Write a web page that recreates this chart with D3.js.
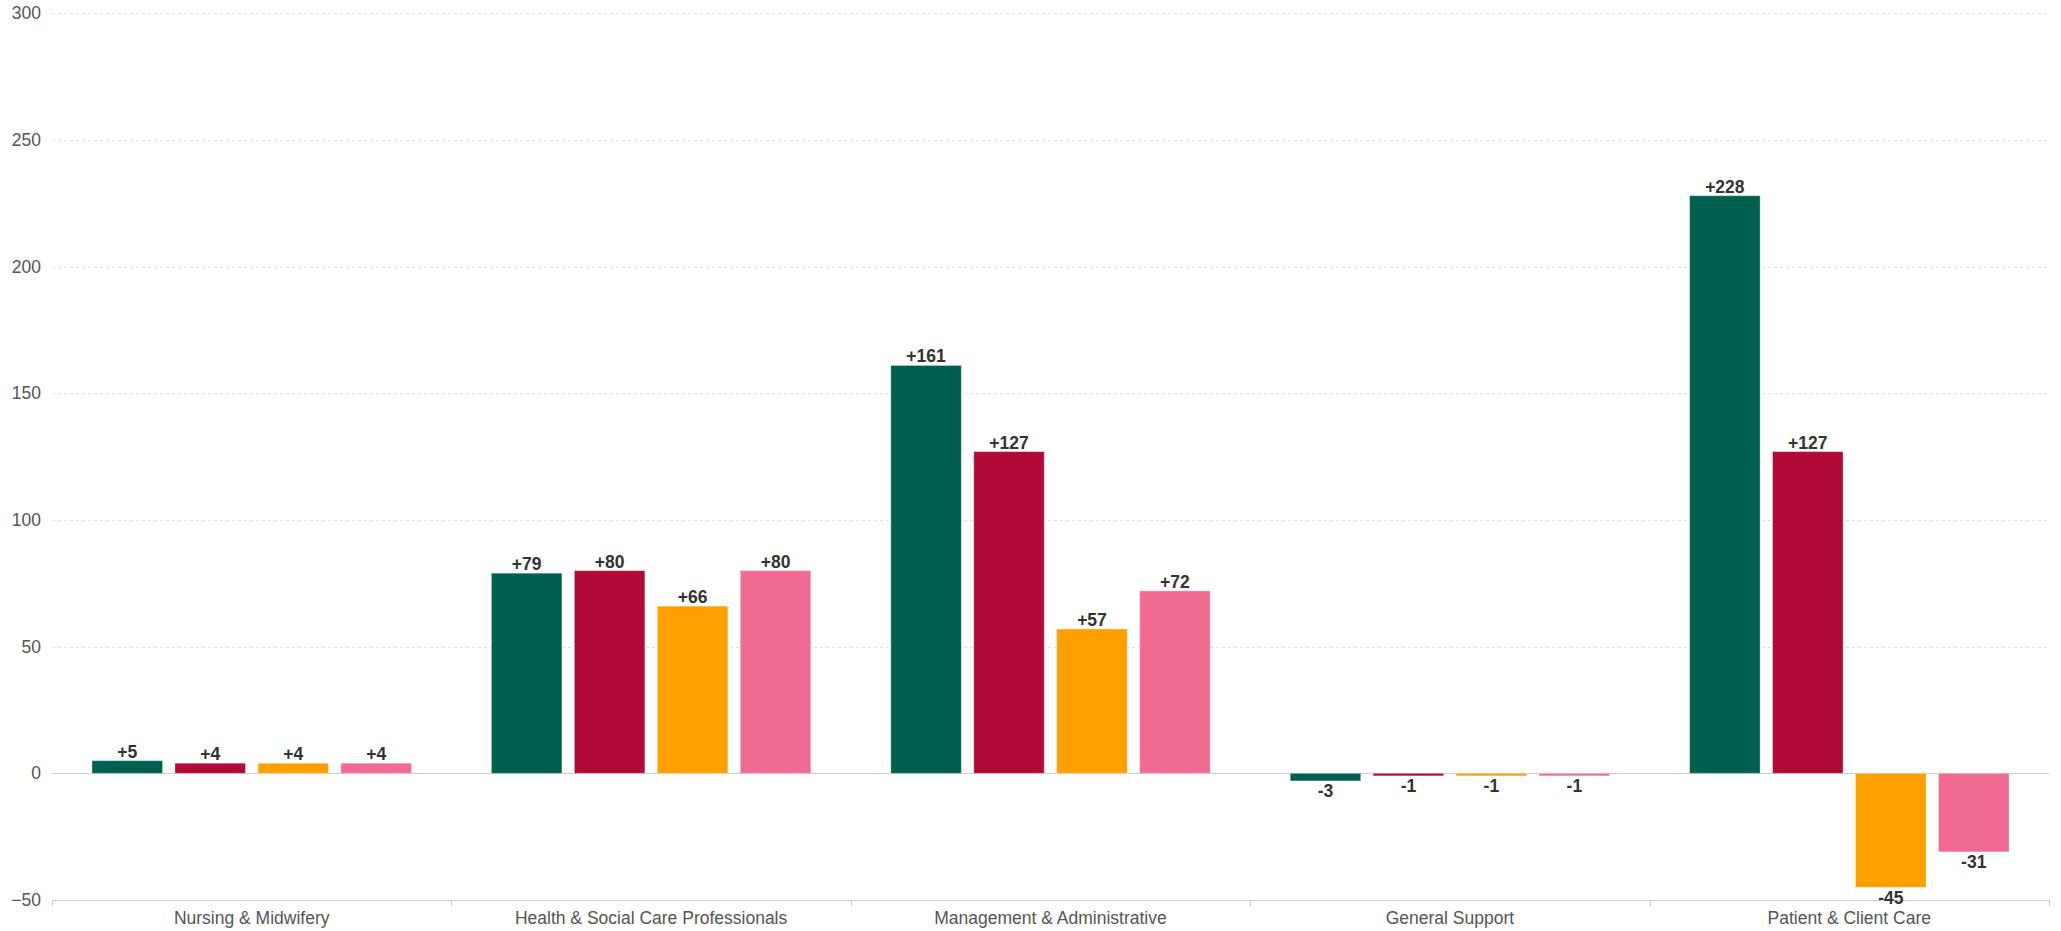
<!DOCTYPE html>
<html>
<head>
<meta charset="utf-8">
<script src="https://cdn.jsdelivr.net/npm/d3@7"></script>
<style>
  html, body { margin: 0; padding: 0; background: #fff; }
  svg { display: block; }
  text { font-family: "Liberation Sans", Arial, sans-serif; }
</style>
</head>
<body>
<svg id="chart" width="2061" height="931"></svg>
<script>
// Workforce change by staff category, four series per group
const categories = [
  "Nursing & Midwifery",
  "Health & Social Care Professionals",
  "Management & Administrative",
  "General Support",
  "Patient & Client Care"
];
const seriesNames = ["Series A", "Series B", "Series C", "Series D"];
const seriesA = [5, 79, 161, -3, 228];
const seriesB = [4, 80, 127, -1, 127];
const seriesC = [4, 66, 57, -1, -45];
const seriesD = [4, 80, 72, -1, -31];
const seriesColors = ["#00604f", "#b00a38", "#ffa000", "#f06a92"];
const yTicks = [-50, 0, 50, 100, 150, 200, 250, 300];

const allSeries = [seriesA, seriesB, seriesC, seriesD];

const W = 2061, H = 931;
const plot = { left: 52, right: 2049, top: 13.3, bottom: 900 };

const svg = d3.select("#chart");

const x0 = d3.scaleBand()
  .domain(categories)
  .range([plot.left, plot.right])
  .padding(0);

const x1 = d3.scaleBand()
  .domain(seriesNames)
  .range([40, x0.bandwidth() - 40])
  .paddingInner(0.15)
  .paddingOuter(0);

const y = d3.scaleLinear()
  .domain([-50, 300])
  .range([plot.bottom, plot.top]);

// Dashed horizontal grid
svg.append("g")
  .selectAll("line")
  .data(yTicks.filter(t => t > 0))
  .join("line")
  .attr("x1", plot.left)
  .attr("x2", plot.right)
  .attr("y1", d => Math.round(y(d)) + 0.5)
  .attr("y2", d => Math.round(y(d)) + 0.5)
  .attr("stroke", "#e2e2e2")
  .attr("stroke-width", 1)
  .attr("stroke-dasharray", "3,3");

// Zero line
svg.append("line")
  .attr("x1", plot.left)
  .attr("x2", plot.right)
  .attr("y1", Math.round(y(0)) + 0.5)
  .attr("y2", Math.round(y(0)) + 0.5)
  .attr("stroke", "#cccccc")
  .attr("stroke-width", 1);

// Y axis labels
const yAxis = d3.axisLeft(y)
  .tickValues(yTicks)
  .tickSize(0)
  .tickPadding(11)
  .tickFormat(d3.format("d"));

const gy = svg.append("g")
  .attr("transform", `translate(${plot.left},0)`)
  .call(yAxis);
gy.select(".domain").remove();
gy.selectAll("text")
  .attr("fill", "#555")
  .style("font-size", "17.5px")
  .style("font-family", "'Liberation Sans', Arial, sans-serif");

// X axis at the bottom of the plot, ticks at category boundaries
const gx = svg.append("g")
  .attr("transform", `translate(0,${plot.bottom})`);
gx.append("line")
  .attr("x1", plot.left)
  .attr("x2", plot.right)
  .attr("y1", 0.5)
  .attr("y2", 0.5)
  .attr("stroke", "#cccccc");
const boundaries = categories.map(c => x0(c)).concat([x0(categories[categories.length - 1]) + x0.bandwidth()]);
gx.selectAll("line.tick")
  .data(boundaries)
  .join("line")
  .attr("class", "tick")
  .attr("x1", d => Math.round(d) + 0.5)
  .attr("x2", d => Math.round(d) + 0.5)
  .attr("y1", 0)
  .attr("y2", 6)
  .attr("stroke", "#cccccc");
gx.selectAll("text")
  .data(categories)
  .join("text")
  .attr("x", d => x0(d) + x0.bandwidth() / 2)
  .attr("y", 24)
  .attr("text-anchor", "middle")
  .attr("fill", "#555")
  .style("font-size", "17.5px")
  .text(d => d);

// Bars
const rows = categories.map((c, i) => ({
  category: c,
  values: seriesNames.map((s, j) => ({ series: s, value: allSeries[j][i], color: seriesColors[j] }))
}));

const groups = svg.append("g")
  .selectAll("g")
  .data(rows)
  .join("g")
  .attr("transform", d => `translate(${x0(d.category)},0)`);

groups.selectAll("rect")
  .data(d => d.values)
  .join("rect")
  .attr("x", d => x1(d.series))
  .attr("width", x1.bandwidth())
  .attr("y", d => y(Math.max(0, d.value)))
  .attr("height", d => Math.abs(y(d.value) - y(0)))
  .attr("fill", d => d.color)
  .attr("stroke", "rgba(255,255,255,0.35)")
  .attr("stroke-width", 1);

// Value labels
const fmt = v => (v > 0 ? "+" : "") + v;
groups.selectAll("text")
  .data(d => d.values)
  .join("text")
  .attr("x", d => x1(d.series) + x1.bandwidth() / 2)
  .attr("y", d => d.value >= 0 ? y(d.value) - 3 : y(d.value) + 16.5)
  .attr("text-anchor", "middle")
  .attr("fill", "#333")
  .style("font-size", "17.5px")
  .style("font-weight", "bold")
  .text(d => fmt(d.value));
</script>
</body>
</html>
